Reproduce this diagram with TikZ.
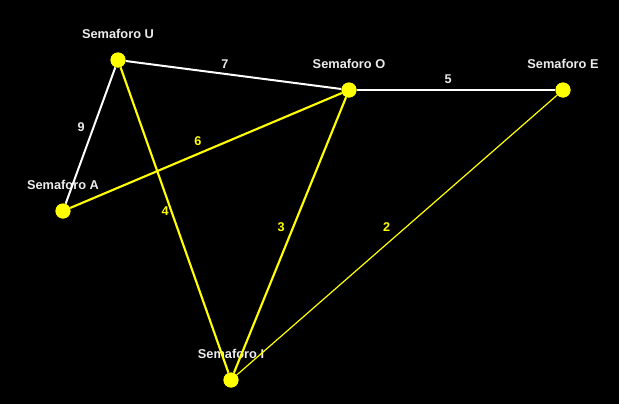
\documentclass[tikz,border=0pt]{standalone}
\usepackage{fontspec}
\setmainfont{Liberation Sans}
\usetikzlibrary{positioning}
\definecolor{semyellow}{RGB}{255,255,0}
\definecolor{semtext}{RGB}{235,235,235}
\tikzset{
  sem/.style={circle, fill=semyellow, draw=none, minimum size=15*0.75pt, inner sep=0pt},
  lbl/.style={text=semtext, inner sep=0pt, font=\fontsize{9.6}{11}\selectfont\bfseries},
  wt/.style={font=\fontsize{9.5}{11}\selectfont\bfseries, inner sep=0pt},
  road/.style={draw=white, line width=1.5pt},
  path/.style={draw=semyellow, line width=1.6pt},
}
\begin{document}
\begin{tikzpicture}[x=0.75pt, y=-0.75pt]
			\fill[black] (0,0) rectangle (619,404);
			\useasboundingbox (0,0) rectangle (619,404);

			% Define nodes with their coordinates
			\node[sem, label={[lbl, label distance=10.3pt]above:Semaforo U}] (U) at (118, 60) {};
			\node[sem, label={[lbl, label distance=10.3pt]above:Semaforo O}] (O) at (349, 90) {};
			\node[sem, label={[lbl, label distance=10.3pt]above:Semaforo E}] (E) at (563, 90) {};
			\node[sem, label={[lbl, label distance=10.3pt]above:Semaforo A}] (A) at (63, 211) {};
			\node[sem, label={[lbl, label distance=10.3pt]above:Semaforo I}] (I) at (231, 380) {};

			% Draw edges with labels
			\draw[road] (U) -- (O) node[wt, text=semtext, pos=0.46, above=3.4pt] {7};
			\draw[road] (O) -- (E) node[wt, text=semtext, pos=0.46, above=4.1pt] {5};
			\draw[road] (U) -- (A) node[wt, text=semtext, pos=0.44, left=5.8pt] {9};

			\draw[path] (A) -- (O) node[wt, text=semyellow, pos=0.47, above=5.6pt] {6};
			\draw[path] (U) -- (I) node[wt, text=semyellow, pos=0.47, left=1.1pt] {4};
			\draw[path] (O) -- (I) node[wt, text=semyellow, pos=0.47, left=5.8pt] {3};
			\draw[path, line width=0.9pt] (E) -- (I) node[wt, text=semyellow, pos=0.47, left=11.8pt] {2};

			% circles on top of the lines
			\foreach \n in {U,O,E,A,I}
				\fill[semyellow] (\n) circle (7.5);

		\end{tikzpicture}
\end{document}
